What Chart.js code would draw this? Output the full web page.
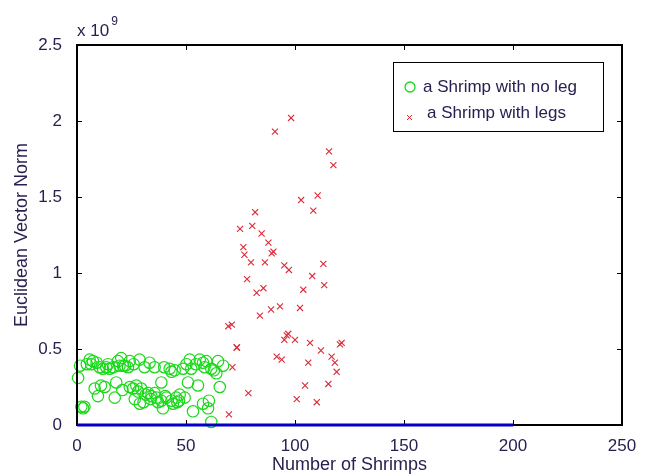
<!DOCTYPE html>
<html>
<head>
<meta charset="utf-8">
<script src="https://cdn.jsdelivr.net/npm/chart.js@4"></script>
<style>
  html, body { margin: 0; padding: 0; background: #fff; }
  #wrap { width: 653px; height: 474px; }
</style>
</head>
<body>
<div id="wrap"><canvas id="chart" width="653" height="474"></canvas></div>
<script>
// values, y in units of 1e9
const noLegX = [0.5, 2.0, 2.8, 3.4, 5.8, 7.3, 10.4, 11.9, 13.4, 15.0, 16.5, 18.8, 20.3, 21.1, 23.4, 24.2,
  28.7, 31.0, 33.3, 35.6, 42.5, 43.3, 48.6, 51.7, 52.4, 56.3, 57.8, 59.3, 61.6, 63.9, 64.7, 67.0,
  8.1, 9.6, 12.7, 17.3, 18.0, 24.2, 25.7, 27.2, 28.0, 28.8, 29.5, 32.6, 34.1, 35.6, 38.7, 38.7,
  39.4, 41.0, 43.3, 45.5, 47.1, 49.4, 50.9, 53.2, 55.5, 57.8, 60.1, 61.6, 65.5, 1.4, 6.5, 26.5,
  36.5, 46.0, 54.5, 30.5, 22.0, 4.5, 9.0, 14.2, 19.5, 26.0, 40.0, 44.8, 50.2, 58.5, 62.8,
  31.5, 33.8, 37.2, 40.5, 44.0, 46.8, 11.0, 20.8, 60.5];
const noLegY = [0.31, 0.12, 0.11, 0.12, 0.43, 0.42, 0.38, 0.37, 0.38, 0.37, 0.38, 0.42, 0.44, 0.39, 0.38, 0.42,
  0.43, 0.38, 0.41, 0.38, 0.37, 0.35, 0.37, 0.43, 0.37, 0.43, 0.41, 0.42, 0.37, 0.34, 0.42, 0.39,
  0.24, 0.19, 0.25, 0.18, 0.28, 0.25, 0.24, 0.26, 0.22, 0.14, 0.24, 0.21, 0.19, 0.21, 0.28, 0.16,
  0.11, 0.18, 0.16, 0.18, 0.20, 0.18, 0.28, 0.09, 0.26, 0.14, 0.11, 0.02, 0.25, 0.39, 0.40, 0.17,
  0.18, 0.15, 0.40, 0.15, 0.39, 0.40, 0.41, 0.40, 0.39, 0.40, 0.38, 0.36, 0.40, 0.38, 0.36,
  0.20, 0.17, 0.15, 0.19, 0.14, 0.16, 0.26, 0.23, 0.16];

const legsX = [98.2, 90.8, 115.6, 117.6, 102.8, 110.4, 108.4, 81.7, 74.8, 80.4, 84.7, 87.8, 90.1, 76.3,
  76.8, 79.8, 89.3, 86.2, 95.1, 97.2, 113.0, 107.9, 113.4, 78.0, 82.4, 85.5, 103.8, 83.9, 89.0, 93.1,
  102.3, 69.4, 71.0, 73.2, 73.4, 71.3, 78.6, 69.7, 96.2, 96.9, 95.1, 100.0, 106.9, 111.9, 116.8, 120.6,
  121.4, 91.6, 93.9, 106.1, 119.1, 118.3, 104.6, 115.3, 100.8, 110.0];
const legsY = [2.02, 1.93, 1.80, 1.71, 1.48, 1.51, 1.41, 1.40, 1.29, 1.31, 1.26, 1.20, 1.14, 1.17,
  1.12, 1.07, 1.13, 1.07, 1.05, 1.02, 1.06, 0.98, 0.92, 0.96, 0.87, 0.90, 0.89, 0.72, 0.76, 0.78,
  0.77, 0.65, 0.66, 0.51, 0.51, 0.38, 0.21, 0.07, 0.59, 0.60, 0.56, 0.56, 0.54, 0.49, 0.45, 0.53,
  0.54, 0.45, 0.43, 0.41, 0.35, 0.41, 0.26, 0.27, 0.17, 0.15];

const baseX = [0, 200];
const baseY = [0, 0];

const xTicks = [0, 50, 100, 150, 200, 250];
const yTicks = [0, 0.5, 1, 1.5, 2, 2.5];

const seriesNames = ['a Shrimp with no leg', 'a Shrimp with legs'];

const GREEN = '#19d919';
const RED = '#dc2a36';
const TEXT = '#282050';
const FONT = "'Liberation Sans', Arial, sans-serif";

function toPoints(xs, ys) {
  return xs.map((x, i) => ({ x: x, y: ys[i] }));
}

// box, inward ticks, exponent and legend in the matlab way
const matlabFrame = {
  id: 'matlabFrame',
  afterDatasetsDraw(chart) {
    const { ctx, chartArea: a, scales: { x, y } } = chart;
    ctx.save();
    ctx.strokeStyle = '#000';
    ctx.lineWidth = 1;
    ctx.beginPath();
    xTicks.forEach(v => {
      const px = Math.round(x.getPixelForValue(v)) + 0.5;
      ctx.moveTo(px, a.bottom); ctx.lineTo(px, a.bottom - 5);
      ctx.moveTo(px, a.top); ctx.lineTo(px, a.top + 5);
    });
    yTicks.forEach(v => {
      const py = Math.round(y.getPixelForValue(v)) + 0.5;
      ctx.moveTo(a.left, py); ctx.lineTo(a.left + 5, py);
      ctx.moveTo(a.right, py); ctx.lineTo(a.right - 5, py);
    });
    ctx.stroke();

    ctx.lineWidth = 2;
    ctx.strokeRect(a.left, a.top, a.right - a.left, a.bottom - a.top);

    // blue baseline sits over the bottom edge
    const ds = chart.getDatasetMeta(2);
    if (ds && ds.data.length) {
      ctx.strokeStyle = '#0000c8';
      ctx.lineWidth = 3;
      ctx.beginPath();
      ctx.moveTo(ds.data[0].x, ds.data[0].y);
      ctx.lineTo(ds.data[1].x, ds.data[1].y);
      ctx.stroke();
    }

    ctx.fillStyle = TEXT;
    ctx.textBaseline = 'middle';
    ctx.textAlign = 'left';
    ctx.font = '17px ' + FONT;
    ctx.fillText('x 10', a.left, a.top - 14);
    const w = ctx.measureText('x 10').width;
    ctx.font = '12px ' + FONT;
    ctx.fillText('9', a.left + w + 2, a.top - 23);

    // legend
    const lx = 393, ly = 62, lw = 210, lh = 69;
    ctx.fillStyle = '#fff';
    ctx.fillRect(lx, ly, lw, lh);
    ctx.strokeStyle = '#000';
    ctx.lineWidth = 1;
    ctx.strokeRect(lx + 0.5, ly + 0.5, lw, lh);

    ctx.strokeStyle = GREEN;
    ctx.lineWidth = 1.3;
    ctx.beginPath();
    ctx.arc(410, 87, 5, 0, Math.PI * 2);
    ctx.stroke();

    ctx.strokeStyle = RED;
    ctx.lineWidth = 1;
    ctx.beginPath();
    ctx.moveTo(407, 115); ctx.lineTo(412, 120);
    ctx.moveTo(412, 115); ctx.lineTo(407, 120);
    ctx.stroke();

    ctx.fillStyle = TEXT;
    ctx.font = '17px ' + FONT;
    ctx.fillText(seriesNames[0], 423, 87);
    ctx.fillText(seriesNames[1], 427, 113);
    ctx.restore();
  }
};

new Chart(document.getElementById('chart'), {
  type: 'scatter',
  data: {
    datasets: [
      {
        label: seriesNames[0],
        data: toPoints(noLegX, noLegY),
        pointStyle: 'circle',
        pointRadius: 5.7,
        pointBorderWidth: 1.2,
        borderColor: GREEN,
        backgroundColor: 'rgba(0,0,0,0)',
        clip: false
      },
      {
        label: seriesNames[1],
        data: toPoints(legsX, legsY),
        pointStyle: 'crossRot',
        pointRadius: 4.3,
        pointBorderWidth: 1.1,
        borderColor: RED,
        backgroundColor: RED,
        clip: false
      },
      {
        label: 'base',
        type: 'line',
        data: toPoints(baseX, baseY),
        showLine: false,
        pointRadius: 0,
        borderColor: 'rgba(0,0,0,0)'
      }
    ]
  },
  options: {
    responsive: false,
    animation: false,
    layout: { padding: { left: 0, top: 45, right: 31, bottom: 0 } },
    plugins: {
      legend: { display: false },
      tooltip: { enabled: false }
    },
    scales: {
      x: {
        type: 'linear',
        min: 0,
        max: 250,
        grid: { display: false },
        border: { display: false },
        afterBuildTicks: s => { s.ticks = xTicks.map(v => ({ value: v })); },
        afterFit: s => { s.height = 49; },
        ticks: { color: TEXT, font: { family: FONT, size: 17 }, padding: 3, maxRotation: 0 },
        title: {
          display: true,
          text: 'Number of Shrimps',
          color: TEXT,
          font: { family: FONT, size: 18 },
          padding: { top: 0, bottom: -2 }
        }
      },
      y: {
        type: 'linear',
        min: 0,
        max: 2.5,
        grid: { display: false },
        border: { display: false },
        afterBuildTicks: s => { s.ticks = yTicks.map(v => ({ value: v })); },
        afterFit: s => { s.width = 77; },
        ticks: {
          color: TEXT,
          font: { family: FONT, size: 17 },
          padding: 7,
          callback: v => String(v)
        },
        title: {
          display: true,
          text: 'Euclidean Vector Norm',
          color: TEXT,
          font: { family: FONT, size: 18 },
          padding: { top: 11, bottom: 0 }
        }
      }
    }
  },
  plugins: [matlabFrame]
});
</script>
</body>
</html>
